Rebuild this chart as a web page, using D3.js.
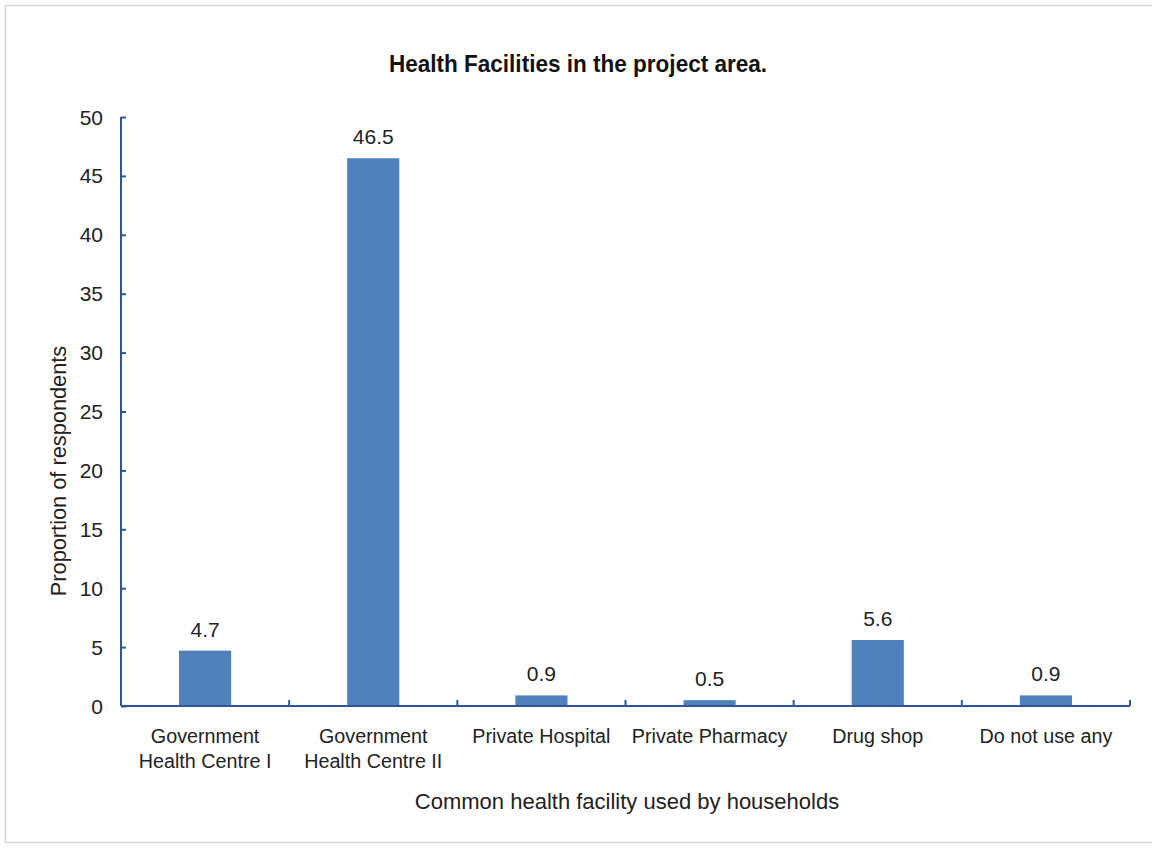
<!DOCTYPE html>
<html><head><meta charset="utf-8">
<script src="https://cdn.jsdelivr.net/npm/d3@7"></script>
<style>
html,body{margin:0;padding:0;background:#fff;}
svg{display:block;}
text{font-family:"Liberation Sans",Arial,sans-serif;fill:#222;}
</style></head>
<body>
<svg id="chart" width="1152" height="848"></svg>
<script>
const categories = [["Government","Health Centre I"],["Government","Health Centre II"],["Private Hospital"],["Private Pharmacy"],["Drug shop"],["Do not use any"]];
const values = [4.7, 46.5, 0.9, 0.5, 5.6, 0.9];
const yTicks = [0,5,10,15,20,25,30,35,40,45,50];
const title = "Health Facilities in the project area.";
const xTitle = "Common health facility used by households";
const yTitle = "Proportion of respondents";

const svg = d3.select("#chart");
function label(parent, x, y, str, size, sx, anchor, extra){
  const t = parent.append("text")
    .attr("transform", `translate(${x},${y}) ${extra||""} scale(${sx},1)`)
    .attr("text-anchor", anchor||"middle").style("font-size", size+"px").text(str);
  return t;
}
// frame
svg.append("rect").attr("x",5.5).attr("y",5.5).attr("width",1160).attr("height",837)
  .attr("fill","none").attr("stroke","#d6d6d6").attr("stroke-width",1.5);

const pLeft = 121, pRight = 1130, pTop = 117, pBottom = 706;
const idx = values.map((d,i)=>i);
const x = d3.scaleBand().domain(idx).range([pLeft,pRight]).paddingInner(0).paddingOuter(0);
const y = d3.scaleLinear().domain([0,50]).range([pBottom,pTop]);
const axisColor = "#2f5597";
const barW = x.bandwidth()*0.31;

label(svg, 578, 72, title, 23, 0.98).style("font-weight","bold").style("fill","#111");

// bars
svg.selectAll(".bar").data(values).enter().append("rect")
  .attr("x",(d,i)=>x(i)+x.bandwidth()/2-barW/2)
  .attr("y",d=>y(d)).attr("width",barW).attr("height",d=>pBottom-y(d))
  .attr("fill","#4f81bd");

// value labels
values.forEach((d,i)=>label(svg, x(i)+x.bandwidth()/2, y(d)-14, d.toFixed(1), 21, 1.0));

// y axis
const yAxis = d3.axisRight(y).tickValues(yTicks).tickSize(5).tickFormat("");
const yg = svg.append("g").attr("transform",`translate(${pLeft},0)`).call(yAxis);
yg.select(".domain").attr("stroke",axisColor).attr("stroke-width",2).attr("d",`M0,${pTop}V${pBottom}`);
yg.selectAll(".tick line").attr("stroke",axisColor).attr("stroke-width",2);
yTicks.forEach(v=>label(svg, 103, y(v)+7.5, String(v), 21, 1.0, "end"));

// x axis
const xg = svg.append("g");
xg.append("line").attr("x1",pLeft).attr("x2",pRight).attr("y1",pBottom).attr("y2",pBottom)
  .attr("stroke",axisColor).attr("stroke-width",2);
const bounds = idx.slice(1).map(i=>x(i)).concat([pRight]);
xg.selectAll(".xt").data(bounds).enter().append("line")
  .attr("x1",d=>d).attr("x2",d=>d).attr("y1",pBottom).attr("y2",pBottom-6)
  .attr("stroke",axisColor).attr("stroke-width",2);

categories.forEach((lines,i)=>{
  lines.forEach((l,j)=>label(svg, x(i)+x.bandwidth()/2, 743+j*25, l, 21, 0.94));
});

label(svg, 627, 809, xTitle, 22, 1.0);
label(svg, 66, 471, yTitle, 22, 0.99, "middle", "rotate(-90)");
</script>
</body></html>
